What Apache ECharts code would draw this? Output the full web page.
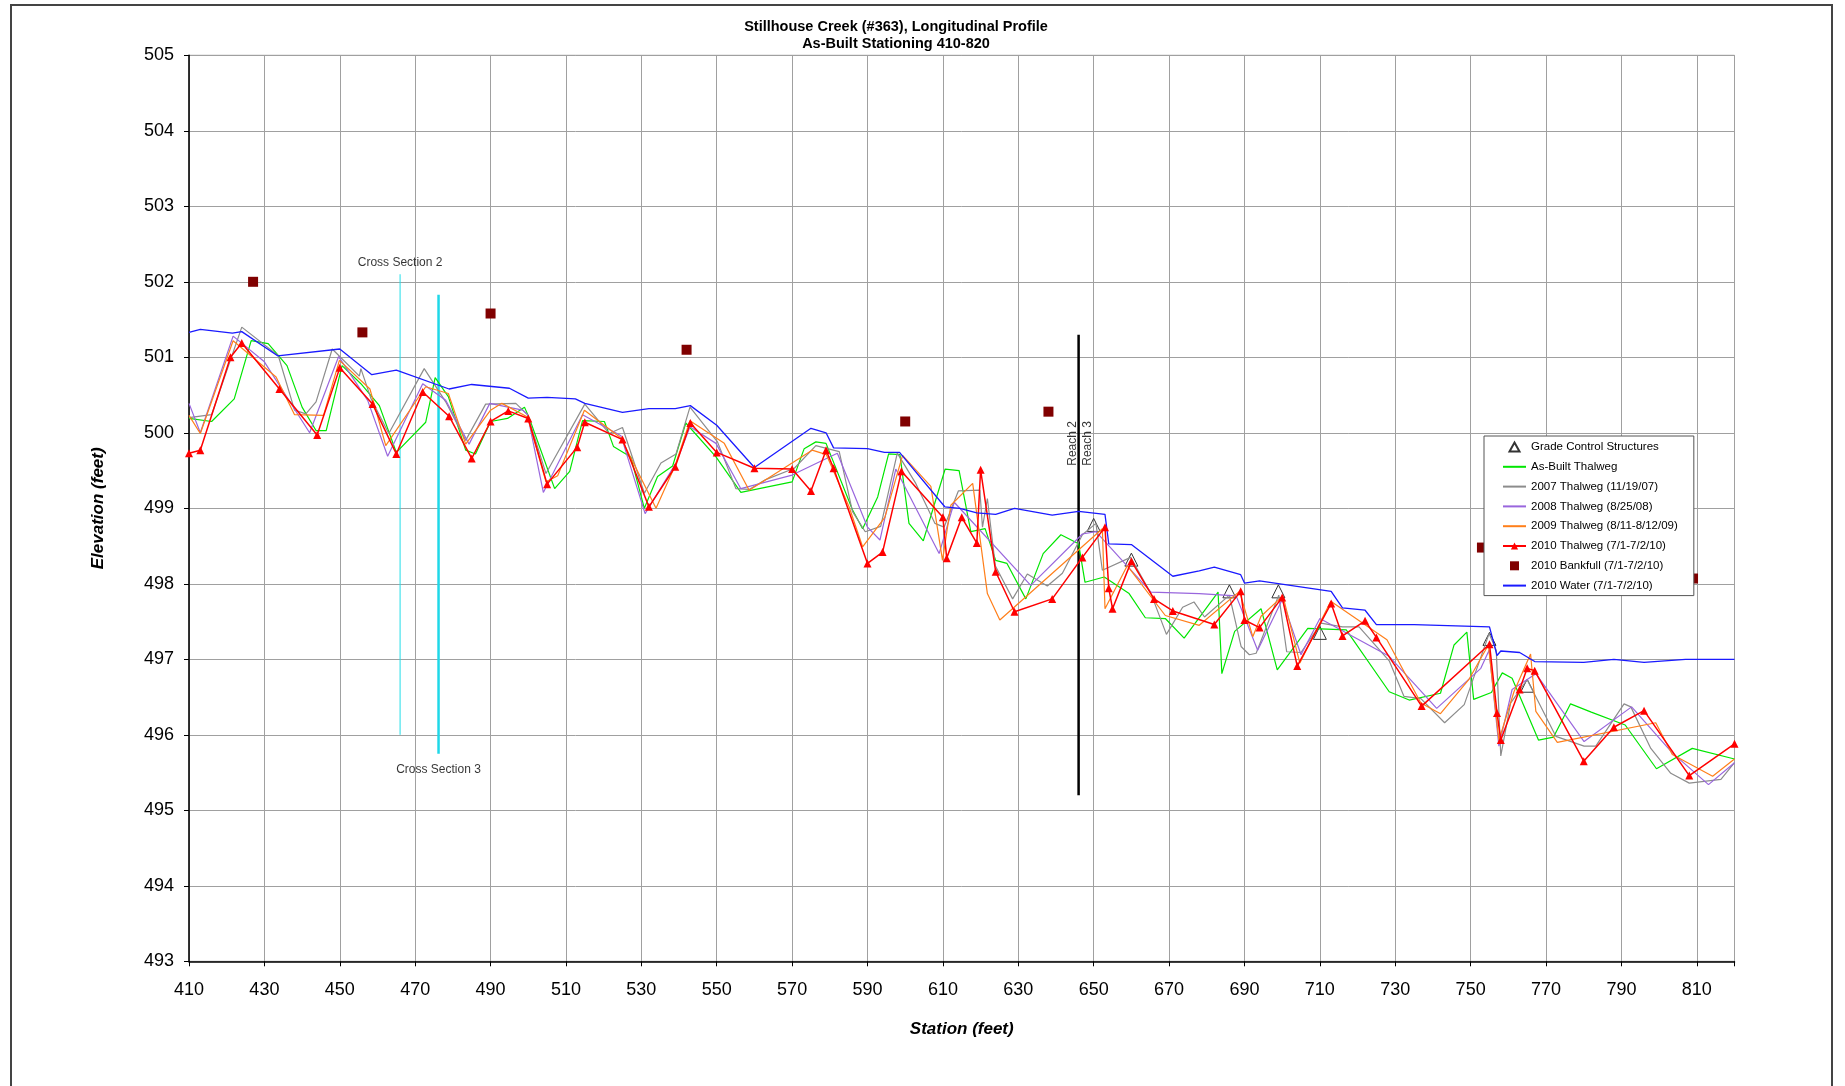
<!DOCTYPE html>
<html>
<head>
<meta charset="utf-8">
<script src="https://cdn.jsdelivr.net/npm/echarts@6/dist/echarts.min.js"></script>
<style>
html, body { margin: 0; padding: 0; background: #fff; }
#chart { width: 1845px; height: 1086px; }
</style>
</head>
<body>
<div id="chart"></div>
<script>
// tick labels
const stationTicks = [410, 430, 450, 470, 490, 510, 530, 550, 570, 590, 610, 630, 650, 670, 690, 710, 730, 750, 770, 790, 810];
const gridTicks = stationTicks.concat([820]);

// series values [station, elevation]
const gradeControl = [[650, 498.78], [660, 498.32], [686, 497.9], [699, 497.9], [710, 497.35], [755, 497.27], [765, 496.65]];

const asBuilt = [[410,500.19],[416,500.15],[422,500.45],[426.5,501.22],[431,501.18],[436,500.89],[440,500.34],[443.7,500.03],[446.4,500.03],[450.6,500.89],[455.6,500.65],[460.5,500.36],[465,499.74],[472.8,500.14],[475.3,500.73],[478.8,500.48],[483.4,499.77],[486,499.72],[490,500.15],[494.5,500.19],[499,500.34],[500.3,500.19],[507,499.26],[511,499.49],[514.4,500.16],[520.2,500.15],[522.6,499.82],[527.2,499.68],[530.8,499.0],[534.3,499.42],[538.3,499.56],[541.8,500.13],[549.8,499.68],[556.4,499.21],[570,499.35],[573.2,499.79],[576.3,499.88],[579,499.86],[586,498.98],[588.7,498.73],[592.7,499.15],[595.6,499.72],[598.6,499.71],[601,498.80],[604.8,498.57],[610.6,499.52],[614.3,499.50],[617.4,498.69],[621.2,498.73],[624,498.31],[627,498.27],[632,497.80],[636.6,498.40],[641.3,498.65],[646,498.53],[647.7,498.02],[652.8,498.09],[659.4,497.87],[663.7,497.55],[669,497.54],[674,497.28],[683,497.89],[684,496.81],[687.4,497.37],[694.4,497.67],[698.7,496.86],[706.8,497.41],[717,497.39],[728.4,496.57],[733.7,496.46],[742,496.55],[745.6,497.19],[749,497.36],[750.8,496.47],[755.5,496.56],[758.4,496.82],[761,496.75],[768,495.93],[772,495.97],[776.5,496.41],[782,496.3],[791,496.13],[799.3,495.55],[808.8,495.82],[820,495.68]];

const thalweg2007 = [[410,500.2],[416,500.24],[424,501.4],[433.7,501.02],[438,500.3],[441,500.25],[443.7,500.41],[448,501.11],[455.2,500.75],[455.6,500.85],[458.3,500.45],[463,499.99],[472.4,500.85],[478.1,500.41],[483.4,499.90],[488.7,500.38],[496.7,500.39],[499.8,500.24],[504.7,499.46],[515,500.38],[521.5,499.99],[525,500.07],[530.8,499.2],[535.2,499.60],[539.2,499.72],[542.9,500.34],[550.2,499.88],[555.1,499.26],[558.6,499.25],[563,499.38],[570.6,499.53],[576.3,499.83],[582.5,499.75],[586,498.96],[589.4,498.69],[593.5,498.76],[597.9,499.73],[602.8,499.33],[607.9,498.80],[610.3,498.75],[614.1,499.23],[619.8,499.24],[620.5,498.75],[621.8,499.13],[623.9,498.24],[628.5,497.80],[632.4,498.13],[637.7,497.97],[641.7,498.14],[647,498.65],[650.6,498.80],[652.3,498.18],[659.8,498.35],[665.2,497.87],[669.3,497.33],[673.6,497.69],[676.6,497.76],[679.4,497.56],[686,497.85],[689.1,497.17],[691.3,497.06],[693.1,497.08],[699.1,497.85],[701.2,497.10],[705,497.09],[710.3,497.48],[716,497.43],[720.4,497.43],[728.4,496.98],[732.3,496.51],[736.8,496.48],[743.1,496.16],[748.3,496.4],[754.9,497.34],[756.8,497.12],[758,495.72],[760.6,496.42],[765,496.73],[772.6,495.98],[780.1,495.85],[783.2,495.85],[790.7,496.41],[792.5,496.37],[797.8,495.82],[803.1,495.49],[808,495.36],[816.4,495.41],[820,495.63]];

const thalweg2008 = [[410,500.39],[413,500.0],[421.7,501.28],[430,500.94],[442,500.0],[449.7,501.01],[457.4,500.43],[462.7,499.69],[472,500.65],[478.1,500.43],[484.3,499.85],[489.8,500.39],[498.5,500.3],[499.8,500.24],[504,499.21],[514.4,500.24],[524.6,499.96],[531,498.93],[539.2,499.60],[542.9,500.08],[549.8,499.86],[556.4,499.26],[570,499.44],[582,499.73],[590,498.75],[593.3,498.58],[597.5,499.52],[609,498.40],[613,499.08],[633.3,497.98],[647,498.66],[650.6,498.69],[665.2,497.89],[678,497.87],[687.8,497.84],[693.5,497.12],[700,497.79],[705,497.06],[710,497.54],[728.4,497.04],[741,496.35],[752.7,496.88],[754.9,497.12],[757.5,495.85],[761,496.6],[767.3,496.81],[780.1,495.91],[792.7,496.37],[803.5,495.76],[813.1,495.34],[820,495.63]];

const thalweg2009 = [[410,500.23],[413,499.99],[421.7,501.22],[433.1,500.74],[438,500.24],[445.7,500.23],[449.9,500.96],[458,500.58],[462.2,499.83],[472.8,500.61],[478.8,500.52],[483.4,499.85],[490,500.3],[493,500.39],[499.8,500.21],[504.7,499.35],[507.8,499.43],[514.9,500.30],[524.6,499.93],[533.9,499.0],[539,499.57],[542.9,500.16],[552,499.86],[558.6,499.24],[575.3,499.77],[579.1,499.71],[585.1,499.02],[588.7,498.49],[594.6,498.88],[599.3,499.70],[606.8,499.29],[609.9,498.31],[612.1,499.04],[617.9,499.33],[621.8,497.87],[625.1,497.52],[652.3,498.73],[653,497.67],[658.9,498.24],[669,497.58],[678,497.45],[688.7,497.90],[692.2,497.30],[694.4,497.57],[700.2,497.84],[704.7,496.95],[712.9,497.77],[727.8,497.26],[736.8,496.42],[742,496.28],[749.5,496.73],[754.7,497.19],[757.5,495.93],[761.5,496.57],[765.9,497.07],[767.3,496.31],[773,495.9],[799.1,496.16],[803.5,495.74],[814.2,495.45],[820,495.68]];

const thalweg2010 = [[410,499.73],[413,499.77],[421,501.0],[424,501.19],[434,500.58],[444,499.97],[450,500.86],[458.7,500.38],[465,499.72],[472,500.54],[479,500.22],[485,499.66],[490,500.15],[494.7,500.29],[500,500.19],[505,499.32],[513,499.81],[515,500.14],[525,499.91],[532,499.02],[539,499.55],[543,500.13],[550,499.74],[560,499.53],[570,499.52],[575,499.23],[579,499.77],[581,499.53],[590,498.27],[594,498.42],[599,499.49],[610,498.88],[611,498.34],[615,498.88],[619,498.54],[620,499.51],[624,498.16],[629,497.63],[639,497.80],[647,498.35],[653,498.75],[654,497.94],[655,497.67],[660,498.30],[666,497.80],[671,497.64],[682,497.46],[689,497.90],[690,497.52],[694,497.42],[700,497.82],[704,496.91],[713,497.74],[716,497.31],[722,497.51],[725,497.29],[737,496.38],[755,497.2],[757,496.29],[758,495.93],[763,496.6],[765,496.88],[767,496.85],[780,495.65],[788,496.1],[796,496.32],[808,495.46],[820,495.88]];

const bankfull2010 = [[427,502.0],[456,501.33],[490,501.58],[542,501.1],[600,500.15],[638,500.28],[753,498.48],[809,498.07]];

const water2010 = [[410,501.33],[413,501.37],[421.5,501.32],[424,501.34],[433.5,501.02],[450,501.11],[458.5,500.77],[465,500.83],[479,500.58],[485,500.64],[495,500.59],[500,500.46],[505,500.47],[512.5,500.45],[515,500.39],[525,500.27],[532,500.32],[539,500.32],[543,500.36],[550,500.1],[560,499.54],[575,500.06],[579,500.0],[581,499.8],[590,499.79],[594.5,499.74],[598.5,499.74],[610.5,499.02],[614.5,499.0],[619,498.94],[624,498.92],[629,499.0],[639,498.91],[646,498.96],[653,498.92],[654,498.53],[660,498.52],[671,498.1],[678,498.17],[682,498.22],[689,498.12],[690,498.01],[694,498.04],[713,497.9],[716,497.68],[722,497.65],[725,497.46],[735,497.46],[755,497.43],[757,497.05],[758,497.11],[763,497.09],[767,496.97],[780,496.96],[788,497.0],[796,496.96],[807,497.0],[820,497.0]];

// annotation lines and labels
const crossSection2 = [[466, 496.0], [466, 502.1]];
const crossSection3 = [[476.2, 495.75], [476.2, 501.83]];
const reachBreak = [[646, 495.2], [646, 501.3]];
const reachLabels = [[644.4, 499.86, 'Reach 2'], [648.4, 499.86, 'Reach 3']];

const FONT = 'Liberation Sans, Arial, sans-serif';

const chart = echarts.init(document.getElementById('chart'));

function thinLine(name, data, color, width) {
  return {
    name: name, type: 'line', data: data, symbol: 'none',
    lineStyle: { color: color, width: width }, itemStyle: { color: color }
  };
}

function vLine(data, color, width) {
  return {
    type: 'line', data: data, symbol: 'none', silent: true,
    lineStyle: { color: color, width: width }
  };
}

const noSymbol = { opacity: 0 };

const option = {
  animation: false,
  backgroundColor: '#fff',
  textStyle: { fontFamily: FONT },
  graphic: [
    { type: 'rect', silent: true, shape: { x: 11, y: 5, width: 1821, height: 1200 },
      style: { fill: 'none', stroke: '#444', lineWidth: 2 } },
    { type: 'text', silent: true, x: 896, y: 18,
      style: { text: 'Stillhouse Creek (#363), Longitudinal Profile\nAs-Built Stationing 410-820',
        align: 'center', verticalAlign: 'top', fontFamily: FONT, fontSize: 14.5, fontWeight: 'bold',
        lineHeight: 17, fill: '#000' } }
  ],
  grid: { left: 189, right: 110.5, top: 55.3, bottom: 124.7, show: true,
    borderColor: '#a0a0a0', borderWidth: 1, backgroundColor: 'transparent', outerBoundsMode: 'none' },
  legend: {
    orient: 'vertical', left: 1484, top: 436,
    data: [
      { name: 'Grade Control Structures', icon: 'path://M5,0 L10,9 L0,9 Z' },
      { name: 'As-Built Thalweg', itemStyle: noSymbol },
      { name: '2007 Thalweg (11/19/07)', itemStyle: noSymbol },
      { name: '2008 Thalweg (8/25/08)', itemStyle: noSymbol },
      { name: '2009 Thalweg (8/11-8/12/09)', itemStyle: noSymbol },
      { name: '2010 Thalweg (7/1-7/2/10)' },
      { name: '2010 Bankfull (7/1-7/2/10)', icon: 'path://M0,0 L10,0 L10,10 L0,10 Z' },
      { name: '2010 Water (7/1-7/2/10)', itemStyle: noSymbol }
    ],
    backgroundColor: '#fff', borderColor: '#555', borderWidth: 1,
    padding: [4, 16, 3, 18], itemGap: 5.8, itemWidth: 23, itemHeight: 9,
    textStyle: { fontFamily: FONT, fontSize: 11.5, color: '#000', lineHeight: 14 },
    z: 10
  },
  xAxis: {
    type: 'value', min: 410, max: 820,
    name: 'Station (feet)', nameLocation: 'middle', nameGap: 60,
    nameTextStyle: { fontFamily: FONT, fontSize: 17, fontWeight: 'bold', fontStyle: 'italic', color: '#000' },
    axisLine: { show: true, onZero: false, lineStyle: { color: '#000', width: 1.5 } },
    axisTick: { show: true, length: 5, customValues: gridTicks, lineStyle: { color: '#000' } },
    axisLabel: { customValues: stationTicks, margin: 20, fontFamily: FONT, fontSize: 18, color: '#000' },
    splitLine: { show: true, lineStyle: { color: '#a0a0a0', width: 1 } }
  },
  yAxis: {
    type: 'value', min: 493, max: 505, interval: 1,
    name: 'Elevation (feet)', nameLocation: 'middle', nameGap: 82,
    nameTextStyle: { fontFamily: FONT, fontSize: 17, fontWeight: 'bold', fontStyle: 'italic', color: '#000' },
    axisLine: { show: true, onZero: false, lineStyle: { color: '#000', width: 1.5 } },
    axisTick: { show: true, length: 5, lineStyle: { color: '#000' } },
    axisLabel: { margin: 15, fontFamily: FONT, fontSize: 18, color: '#000' },
    splitLine: { show: true, lineStyle: { color: '#a0a0a0', width: 1 } }
  },
  series: [
    vLine(crossSection2, '#22dde8', 1),
    vLine(crossSection3, '#1fd8e8', 2.5),
    vLine(reachBreak, '#000', 2.5),
    {
      type: 'scatter', silent: true, symbolSize: 0,
      data: [{ value: crossSection2[1], label: { show: true, position: 'top', distance: 6, formatter: 'Cross Section 2' } },
             { value: crossSection3[0], label: { show: true, position: 'bottom', distance: 10, formatter: 'Cross Section 3' } }],
      label: { fontFamily: FONT, fontSize: 12, color: '#000' }
    },
    {
      type: 'scatter', silent: true, symbolSize: 0,
      data: reachLabels.map(function (r) { return { value: [r[0], r[1]], name: r[2] }; }),
      label: { show: true, position: 'inside', rotate: 90, formatter: '{b}', fontFamily: FONT, fontSize: 12, color: '#000' }
    },
    {
      name: 'Grade Control Structures', type: 'scatter', data: gradeControl, symbol: 'triangle', symbolSize: 13,
      itemStyle: { color: 'rgba(255,255,255,0)', borderColor: '#333', borderWidth: 1, opacity: 1 }
    },
    thinLine('As-Built Thalweg', asBuilt, '#00e600', 1.2),
    thinLine('2007 Thalweg (11/19/07)', thalweg2007, '#8c8c8c', 1.2),
    thinLine('2008 Thalweg (8/25/08)', thalweg2008, '#9966dd', 1.2),
    thinLine('2009 Thalweg (8/11-8/12/09)', thalweg2009, '#ff7f1a', 1.2),
    {
      name: '2010 Thalweg (7/1-7/2/10)', type: 'line', data: thalweg2010, symbol: 'triangle', symbolSize: 8,
      lineStyle: { color: '#ff0000', width: 1.5 }, itemStyle: { color: '#ff0000' }
    },
    {
      name: '2010 Bankfull (7/1-7/2/10)', type: 'scatter', data: bankfull2010, symbol: 'rect', symbolSize: 10,
      itemStyle: { color: '#800000', opacity: 1 }
    },
    thinLine('2010 Water (7/1-7/2/10)', water2010, '#1a1aff', 1.3)
  ]
};

chart.setOption(option);
</script>
</body>
</html>
